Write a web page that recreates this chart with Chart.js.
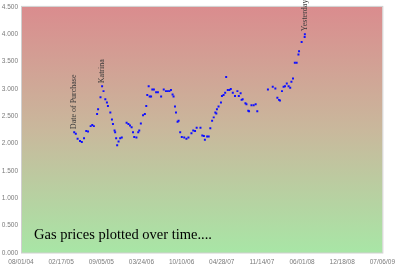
<!DOCTYPE html>
<html>
<head>
<meta charset="utf-8">
<script src="https://cdn.jsdelivr.net/npm/chart.js@4.4.0/dist/chart.umd.min.js"></script>
<style>
  html, body { margin: 0; padding: 0; background: #fff; }
  #wrap { width: 400px; height: 265px; }
</style>
</head>
<body>
<div id="wrap"><canvas id="grafico" width="400" height="265"></canvas></div>
<script>
// days counted from 08/01/04
const days = [
  265, 273, 282, 294, 303, 314, 325, 334, 347, 355, 363, 379, 384, 396, 404, 411,
  420, 428, 433, 445, 453, 458, 466, 469, 474, 479, 486, 494, 502, 526, 535, 543,
  551, 558, 564, 575, 584, 589, 597, 608, 617, 624, 629, 636, 641, 648, 654, 662,
  673, 682, 698, 711, 722, 731, 739, 747, 755, 760, 767, 772, 780, 785, 793, 801,
  813, 824, 834, 849, 858, 867, 875, 894, 903, 911, 916, 927, 935, 943, 952, 960,
  968, 973, 976, 984, 996, 1001, 1009, 1017, 1022, 1030, 1038, 1045, 1055, 1066, 1078, 1085,
  1094, 1099, 1104, 1118, 1123, 1132, 1136, 1148, 1159, 1169, 1177, 1230, 1254, 1267, 1277, 1285,
  1290, 1300, 1308, 1315, 1324, 1333, 1341, 1347, 1355, 1364, 1373, 1382, 1385, 1398, 1413, 1414
];
const prices = [
  2.21, 2.18, 2.09, 2.05, 2.03, 2.10, 2.23, 2.22, 2.32, 2.34, 2.32, 2.54, 2.63, 2.85, 3.05, 2.96,
  2.81, 2.75, 2.69, 2.57, 2.44, 2.36, 2.24, 2.21, 2.10, 1.97, 2.04, 2.10, 2.11, 2.38, 2.36, 2.33,
  2.30, 2.21, 2.12, 2.11, 2.21, 2.24, 2.37, 2.52, 2.54, 2.69, 2.89, 3.05, 2.86, 2.86, 2.99, 2.99,
  2.94, 2.94, 2.86, 2.99, 2.96, 2.96, 2.96, 2.98, 2.90, 2.86, 2.68, 2.57, 2.40, 2.42, 2.21, 2.12,
  2.11, 2.09, 2.11, 2.19, 2.24, 2.23, 2.29, 2.29, 2.15, 2.14, 2.07, 2.13, 2.13, 2.28, 2.42, 2.48,
  2.57, 2.55, 2.63, 2.68, 2.75, 2.87, 2.89, 2.93, 3.22, 2.98, 2.98, 3.00, 2.93, 2.87, 2.96, 2.87,
  2.92, 2.80, 2.81, 2.74, 2.72, 2.60, 2.59, 2.70, 2.70, 2.72, 2.59, 2.99, 3.04, 3.01, 2.84, 2.80,
  2.79, 2.96, 3.04, 3.05, 3.10, 3.05, 3.02, 3.13, 3.19, 3.48, 3.48, 3.63, 3.69, 3.86, 3.95, 4.00
];

// note rotate sopra i punti
const noteText = ['Date of Purchase', 'Katrina', 'Yesterday'];
const noteIndex = [0, 14, 127];
const caption = 'Gas prices plotted over time....';

const startDate = Date.UTC(2004, 7, 1);
function dayLabel(v) {
  const d = new Date(startDate + v * 86400000);
  const p = n => String(n).padStart(2, '0');
  return p(d.getUTCMonth() + 1) + '/' + p(d.getUTCDate()) + '/' + p(d.getUTCFullYear() % 100);
}

const sfondo = {
  id: 'sfondo',
  beforeDatasetsDraw(chart) {
    const { ctx, chartArea: a } = chart;
    const g = ctx.createLinearGradient(0, a.top, 0, a.bottom);
    g.addColorStop(0, '#da8c8e');
    g.addColorStop(0.5, '#c9b89c');
    g.addColorStop(1, '#a8e6a6');
    ctx.save();
    ctx.fillStyle = g;
    ctx.fillRect(a.left, a.top, a.right - a.left, a.bottom - a.top);
    ctx.strokeStyle = '#d0d0d0';
    ctx.lineWidth = 1;
    ctx.strokeRect(a.left + 0.5, a.top - 0.5, a.right - a.left, a.bottom - a.top + 0.5);
    ctx.restore();
  },
  afterDatasetsDraw(chart) {
    const { ctx, chartArea: a } = chart;
    const meta = chart.getDatasetMeta(0);
    ctx.save();
    ctx.fillStyle = '#3a3a3a';
    ctx.font = '8px "Liberation Serif", "Times New Roman", serif';
    ctx.textAlign = 'left';
    ctx.textBaseline = 'middle';
    noteText.forEach((t, i) => {
      const pt = meta.data[noteIndex[i]];
      ctx.save();
      ctx.translate(pt.x, pt.y - 3);
      ctx.rotate(-Math.PI / 2);
      ctx.fillText(t, 0, 0);
      ctx.restore();
    });
    ctx.fillStyle = '#000';
    ctx.font = '14.5px "Liberation Serif", "Times New Roman", serif';
    ctx.textBaseline = 'alphabetic';
    ctx.fillText(caption, a.left + 13, a.bottom - 14);
    ctx.restore();
  }
};

const grafico = new Chart(document.getElementById('grafico'), {
  type: 'scatter',
  data: {
    datasets: [{
      data: days.map((d, i) => ({ x: d, y: prices[i] })),
      pointStyle: 'rect',
      pointRadius: 1.4,
      pointBorderWidth: 0,
      backgroundColor: '#1010ff',
      borderColor: '#1010ff'
    }]
  },
  options: {
    responsive: false,
    animation: false,
    layout: { padding: { top: 4, right: 12, left: 0, bottom: 0 } },
    plugins: { legend: { display: false }, tooltip: { enabled: false } },
    scales: {
      x: {
        type: 'linear',
        min: 0,
        max: 1800,
        afterFit: s => { s.height = 12; },
        grid: { display: false, drawTicks: false },
        border: { display: false },
        ticks: {
          stepSize: 200,
          padding: 5,
          maxRotation: 0,
          autoSkip: false,
          color: '#7a7a7a',
          font: { family: '"Liberation Sans", Arial', size: 6.5 },
          callback: v => dayLabel(v)
        }
      },
      y: {
        min: 0,
        max: 4.5,
        afterFit: s => { s.width = 21; },
        grid: { display: false, drawTicks: false },
        border: { display: false },
        ticks: {
          stepSize: 0.5,
          padding: 3,
          color: '#7a7a7a',
          font: { family: '"Liberation Sans", Arial', size: 6.5 },
          callback: v => v.toFixed(3)
        }
      }
    }
  },
  plugins: [sfondo]
});
</script>
</body>
</html>
